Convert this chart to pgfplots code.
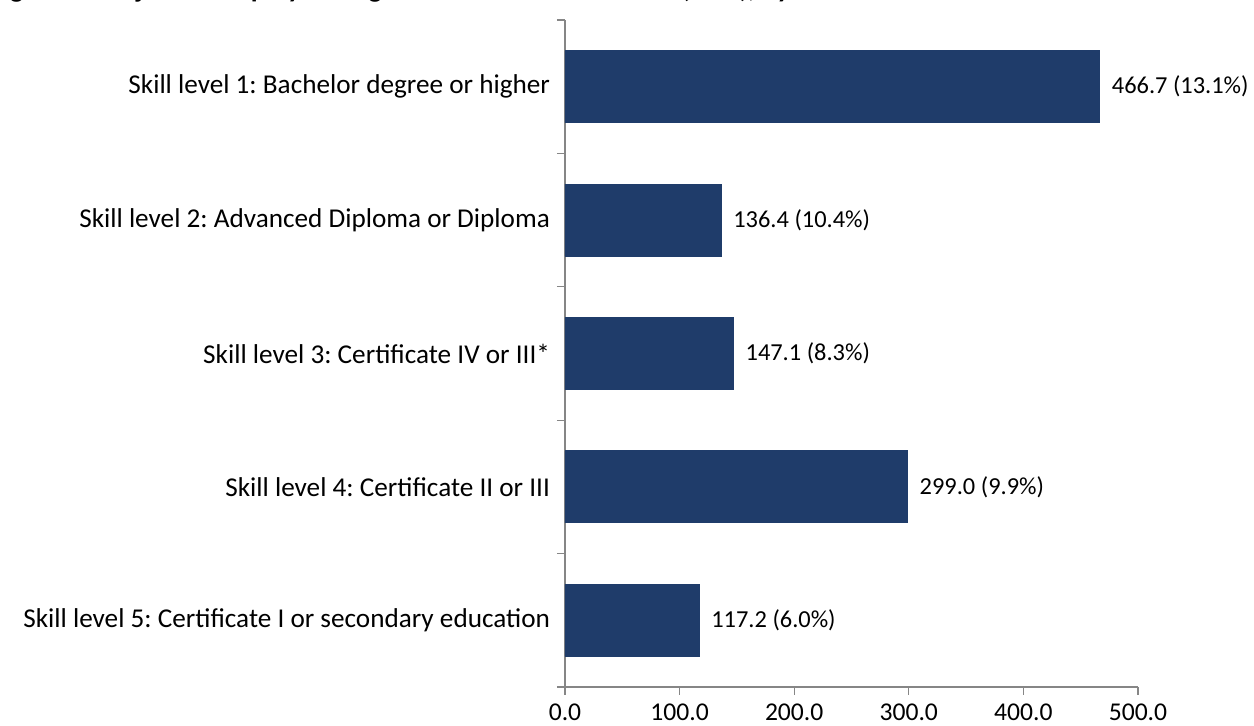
\documentclass[border=0pt]{standalone}
\usepackage{fontspec}
\setmainfont{Carlito}
\usepackage{pgfplots}
\pgfplotsset{compat=1.18}
\definecolor{barblue}{RGB}{31,60,106}
\definecolor{axisgray}{RGB}{134,134,134}
\frenchspacing
\begin{document}
\begin{tikzpicture}
\begin{axis}[
    scale only axis,
    width=286.5pt,
    height=333.5pt,
    xbar,
    bar width=36pt,
    xmin=0, xmax=500,
    ymin=-0.5, ymax=4.5,
    y dir=reverse,
    axis x line*=bottom,
    axis y line*=left,
    axis line style={axisgray, line width=0.6pt, -},
    tick style={axisgray, line width=0.6pt},
    tick align=outside,
    major tick length=4pt,
    xtick={0,100,200,300,400,500},
    /pgf/number format/fixed,
    /pgf/number format/fixed zerofill,
    /pgf/number format/precision=1,
    /pgf/number format/assume math mode=true,
    ytick={-0.5,0.5,1.5,2.5,3.5,4.5},
    yticklabels={},
    extra y ticks={0,1,2,3,4},
    extra y tick labels={
        Skill level 1: Bachelor degree or higher,
        Skill level 2: Advanced Diploma or Diploma,
        Skill level 3: Certificate IV or III*,
        Skill level 4: Certificate II or III,
        Skill level 5: Certificate I or secondary education},
    extra y tick style={major tick length=0pt,
        yticklabel style={xshift=-4pt, font=\fontsize{13.6}{16}\selectfont}},
    ticklabel style={font=\fontsize{12.8}{15}\selectfont, text=black},
    xticklabel style={yshift=-0.8pt},
    nodes near coords,
    point meta=explicit symbolic,
    nodes near coords style={anchor=west, font=\fontsize{12.2}{14}\selectfont, text=black, xshift=2.5pt},
]
\addplot[fill=barblue, draw=barblue] coordinates {
(466.7,0) [466.7 (13.1\%)]
(136.4,1) [136.4 (10.4\%)]
(147.1,2) [147.1 (8.3\%)]
(299.0,3) [299.0 (9.9\%)]
(117.2,4) [117.2 (6.0\%)]
};
\coordinate (o) at (axis cs:0,4.5);
\end{axis}
\node[anchor=base west, inner sep=0pt, font=\bfseries\fontsize{14}{17}\selectfont]
    at ([shift={(-287.5pt,344.8pt)}]o)
    {Figure 4: Projected employment growth to November 2018 ('000), by skill level};
\pgfresetboundingbox
\path[use as bounding box] ([shift={(-282.5pt,-19.5pt)}]o) rectangle ([shift={(344.5pt,343.5pt)}]o);
\end{tikzpicture}
\end{document}
